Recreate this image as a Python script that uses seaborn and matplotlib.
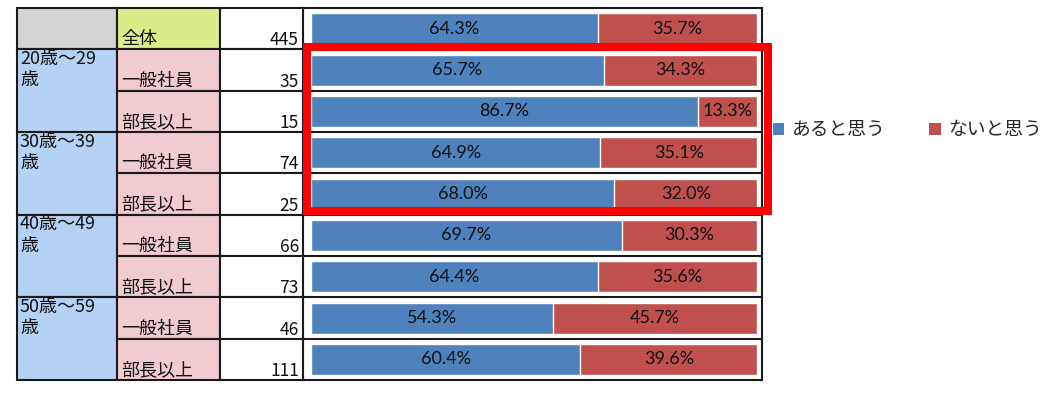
"""
Stacked 100% bars by age group and job level, with the n-table on the left.
"""

import matplotlib as mpl
import matplotlib.pyplot as plt
import numpy as np
import pandas as pd
import seaborn as sns
from matplotlib.patches import Rectangle

AGE_GROUPS = ["20歳～29\n歳", "30歳～39\n歳", "40歳～49\n歳", "50歳～59\n歳"]
ROLES = ["一般社員", "部長以上"]
ROW_LABELS = ["全体"] + ROLES * 4
ROW_N = [445, 35, 15, 74, 25, 66, 73, 46, 111]
YES_PCT = [64.3, 65.7, 86.7, 64.9, 68.0, 69.7, 64.4, 54.3, 60.4]
NO_PCT = [35.7, 34.3, 13.3, 35.1, 32.0, 30.3, 35.6, 45.7, 39.6]
SERIES = ["あると思う", "ないと思う"]

COLORS = {"あると思う": "#4F81BD", "ないと思う": "#C0504D"}
CELL_GREY = "#D4D4D4"
CELL_GREEN = "#D9EE8B"
CELL_BLUE = "#B4D2F4"
CELL_PINK = "#F1CBCF"
LINE = "#1A1A1A"

W, H = 1053, 399
# layout in pixels (top-down)
COL_X = [17, 117, 220, 303]
BAR_RIGHT = 762
TOP, BOTTOM = 8, 380
JP = ["Noto Sans CJK JP", "DejaVu Sans"]


def fig_rect(x0, y0, x1, y1):
    return [x0 / W, 1 - y1 / H, (x1 - x0) / W, (y1 - y0) / H]


def main():
    sns.set_theme(style="white")
    mpl.rcParams["font.family"] = JP

    n_rows = len(ROW_LABELS)
    df = pd.DataFrame({
        "key": [f"r{i}" for i in range(n_rows)],
        "yes": YES_PCT,
        "no": NO_PCT,
    })
    df["total"] = df["yes"] + df["no"]

    fig = plt.figure(figsize=(W / 100, H / 100), dpi=100)

    # ---- bar panel
    ax = fig.add_axes(fig_rect(COL_X[3], TOP, BAR_RIGHT, BOTTOM))
    sns.barplot(data=df, x="total", y="key", orient="h", color=COLORS["ないと思う"],
                width=0.75, saturation=1, ax=ax)
    sns.barplot(data=df, x="yes", y="key", orient="h", color=COLORS["あると思う"],
                width=0.75, saturation=1, ax=ax)
    px = (BAR_RIGHT - COL_X[3]) / 100.0
    ax.set_xlim(-8 / px, 100 + 5 / px)
    ax.set_ylim(n_rows - 0.5, -0.5)
    ax.set_xticks([])
    ax.set_yticks([])
    ax.set_xlabel("")
    ax.set_ylabel("")
    for s in ax.spines.values():
        s.set_visible(True)
        s.set_color(LINE)
        s.set_linewidth(1.5)
    for i in range(1, n_rows):
        ax.axhline(i - 0.5, color=LINE, linewidth=1.5)
    for i, row in df.iterrows():
        ax.text(row["yes"] / 2, i, f"{row['yes']:.1f}%", ha="center", va="center",
                fontsize=13, family="Lato", color="#111111")
        ax.text(row["yes"] + row["no"] / 2, i, f"{row['no']:.1f}%", ha="center", va="center",
                fontsize=13, family="Lato", color="#111111")

    # ---- table panel (pixel x, row y)
    tab = fig.add_axes(fig_rect(COL_X[0], TOP, COL_X[3], BOTTOM))
    tab.set_xlim(COL_X[0], COL_X[3])
    tab.set_ylim(n_rows, 0)
    tab.axis("off")
    rh = (BOTTOM - TOP) / n_rows  # pixels per row

    def cell(x0, x1, r0, r1, color):
        tab.add_patch(Rectangle((x0, r0), x1 - x0, r1 - r0, facecolor=color,
                                edgecolor=LINE, linewidth=1.5, clip_on=False))

    cell(COL_X[0], COL_X[1], 0, 1, CELL_GREY)
    cell(COL_X[1], COL_X[2], 0, 1, CELL_GREEN)
    cell(COL_X[2], COL_X[3], 0, 1, "white")
    for g, age in enumerate(AGE_GROUPS):
        r0 = 1 + 2 * g
        cell(COL_X[0], COL_X[1], r0, r0 + 2, CELL_BLUE)
        tab.text(COL_X[0] + 3, r0 + 0.5 / rh, age, ha="left", va="top",
                 fontsize=13, linespacing=1.25, color="#111111")
    for i in range(1, n_rows):
        cell(COL_X[1], COL_X[2], i, i + 1, CELL_PINK)
        cell(COL_X[2], COL_X[3], i, i + 1, "white")
    for i, (lab, n) in enumerate(zip(ROW_LABELS, ROW_N)):
        tab.text(COL_X[1] + 4, i + 1 - 5 / rh, lab, ha="left", va="baseline",
                 fontsize=13, color="#111111")
        tab.text(COL_X[3] - 4, i + 1 - 4 / rh, str(n), ha="right", va="baseline",
                 fontsize=12.5, color="#111111")

    # ---- highlight box around the 20s/30s rows
    hl = fig.add_axes(fig_rect(0, 0, W, H), facecolor="none")
    hl.set_xlim(0, W)
    hl.set_ylim(H, 0)
    hl.axis("off")
    hl.add_patch(Rectangle((307, 47), 768 - 307, 211 - 47, fill=False,
                           edgecolor="#FF0000", linewidth=5.8))

    handles = [Rectangle((0, 0), 1, 1, facecolor=COLORS[s], edgecolor="none") for s in SERIES]
    fig.legend(handles, SERIES, loc="center left", bbox_to_anchor=(756 / W, 1 - 130 / H),
               ncol=2, frameon=False, fontsize=13.5, handlelength=0.6, handleheight=0.6,
               handletextpad=0.4, columnspacing=2.35)

    fig.savefig("out.png", dpi=100, facecolor="white")
    plt.close(fig)


if __name__ == "__main__":
    main()
